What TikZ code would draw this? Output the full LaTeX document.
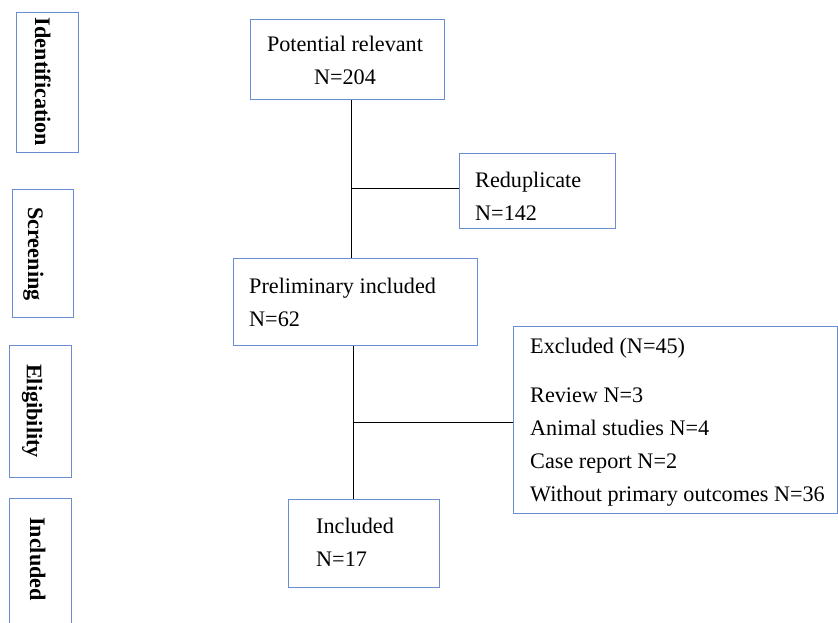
\documentclass[tikz,border=0pt]{standalone}
\usepackage{fontspec}
\setmainfont{Liberation Serif}
\definecolor{boxblue}{RGB}{105,140,210}
\begin{document}
\begin{tikzpicture}[x=1pt,y=-1pt,
  box/.style={draw=boxblue, line width=1.3pt, inner sep=0pt, anchor=north west, fill=white},
  txt/.style={inner sep=0pt, font=\fontsize{22.2}{33}\selectfont},
  side/.style={inner sep=0pt, font=\fontsize{22.2}{33}\selectfont\bfseries, rotate=-90, anchor=base},
  conn/.style={draw=black, line width=1pt}]
\clip (0,0) rectangle (838,623);
\fill[white] (0,0) rectangle (838,623);
% side boxes
\node[box, minimum width=62pt, minimum height=140pt] (s1) at (16,12) {};
\node[box, minimum width=61pt, minimum height=128pt] (s2) at (12,189) {};
\node[box, minimum width=62pt, minimum height=132pt] (s3) at (9,345) {};
\node[box, minimum width=62pt, minimum height=130pt] (s4) at (9,498) {};
\node[side] (s1t) at (35,82) {Identification};
\node[side] (s2t) at (28,254) {Screening};
\node[side] (s3t) at (27,411) {Eligibility};
\node[side] (s4t) at (30,559) {Included};
% main boxes
\node[box, minimum width=194pt, minimum height=80pt] (pot) at (250,19) {};
\node[box, minimum width=156pt, minimum height=75pt] (red) at (459,153) {};
\node[box, minimum width=244pt, minimum height=87pt] (pre) at (233,258) {};
\node[box, minimum width=324pt, minimum height=187pt] (exc) at (513,326) {};
\node[box, minimum width=151pt, minimum height=88pt] (inc) at (288,499) {};
% texts
\node[txt, anchor=base] (pott) at (345,52) {\begin{tabular}[t]{@{}c@{}}Potential relevant\\N=204\end{tabular}};
\node[txt, anchor=base west] (redt) at (475,187) {\begin{tabular}[t]{@{}l@{}}Reduplicate\\N=142\end{tabular}};
\node[txt, anchor=base west] (pret) at (249,293) {\begin{tabular}[t]{@{}l@{}}Preliminary included\\N=62\end{tabular}};
\node[txt, anchor=base west] (exct) at (530,353) {\begin{tabular}[t]{@{}l@{}}Excluded (N=45)\\[16pt]Review N=3\\Animal studies N=4\\Case report N=2\\Without primary outcomes N=36\end{tabular}};
\node[txt, anchor=base west] (inct) at (316,533) {\begin{tabular}[t]{@{}l@{}}Included\\N=17\end{tabular}};
% connectors
\draw[conn] ([xshift=4pt]pot.south) -- ([xshift=4pt]pot.south |- pre.north);
\coordinate (j1) at (351,188);
\draw[conn] (j1) -- (j1 -| red.west);
\draw[conn] ([xshift=-2pt]pre.south) -- ([xshift=-2pt]pre.south |- inc.north);
\coordinate (j2) at (353,422);
\draw[conn] (j2) -- (j2 -| exc.west);
\end{tikzpicture}
\end{document}
